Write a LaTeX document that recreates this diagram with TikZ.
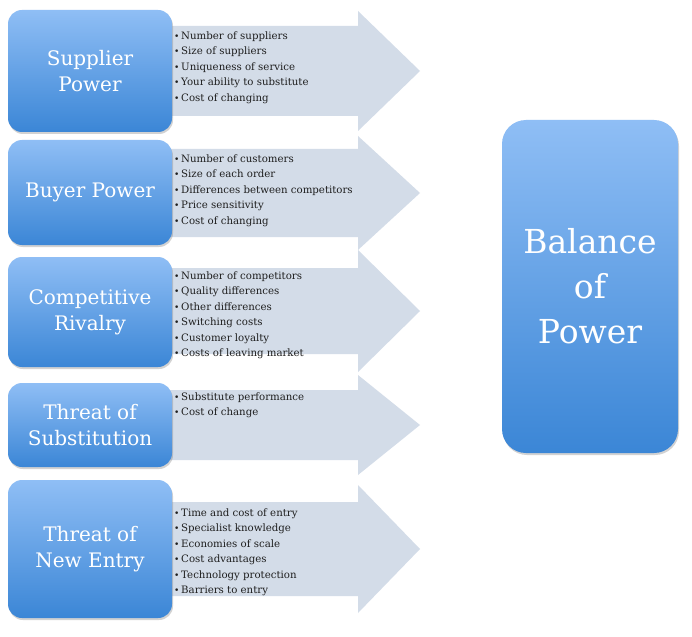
\documentclass[tikz,border=0pt]{standalone}
\usepackage{fontspec}
\setmainfont{DejaVu Serif}
\usetikzlibrary{shadows}
\definecolor{boxtop}{HTML}{8FBEF5}
\definecolor{boxbot}{HTML}{3B86D6}
\definecolor{arrowfill}{HTML}{D3DCE8}
\definecolor{listtext}{HTML}{1E1E1E}
\tikzset{
  forcebox/.style={rounded corners=14pt, top color=boxtop, bottom color=boxbot,
    text=white, align=center, minimum width=164pt, inner sep=0pt,
    font=\fontsize{20}{26}\selectfont,
    drop shadow={opacity=0.35, shadow xshift=1pt, shadow yshift=-2pt}},
  bigbox/.style={forcebox, rounded corners=24pt, minimum width=176pt,
    font=\fontsize{33}{45}\selectfont},
  arrowshape/.style={fill=arrowfill, draw=none},
  factorlist/.style={anchor=north west, align=left, inner sep=0pt, text=listtext,
    font=\fontsize{10.2}{15.4}\selectfont}
}
\newcommand{\bl}{{\small\textbullet}\,}
\begin{document}
\begin{tikzpicture}[x=1pt,y=-1pt]
\useasboundingbox (0,0) rectangle (692,636);
\fill[white] (0,0) rectangle (692,636);
% arrows
\foreach \c/\b/\h in {71/45/60, 193/44/57, 311/43/61, 425/35/50, 549/47/64}{
  \path[arrowshape] (165,\c-\b) -- (358,\c-\b) -- (358,\c-\h) -- (420,\c)
    -- (358,\c+\h) -- (358,\c+\b) -- (165,\c+\b) -- cycle;
}
% boxes
\node[forcebox, minimum height=122pt] (sup) at (90,71) {Supplier\\Power};
\node[forcebox, minimum height=105pt] (buy) at (90,192.5) {Buyer Power};
\node[forcebox, minimum height=110pt] (riv) at (90,312) {Competitive\\Rivalry};
\node[forcebox, minimum height=84pt] (sub) at (90,425) {Threat of\\Substitution};
\node[forcebox, minimum height=138pt] (new) at (90,549) {Threat of\\New Entry};
\node[bigbox, minimum height=333pt] (bal) at (590,286.5) {Balance\\of\\Power};
% lists
\node[factorlist] (l1) at (174,31.5) {\bl Number of suppliers\\\bl Size of suppliers\\\bl Uniqueness of service\\\bl Your ability to substitute\\\bl Cost of changing};
\node[factorlist] (l2) at (174,154.5) {\bl Number of customers\\\bl Size of each order\\\bl Differences between competitors\\\bl Price sensitivity\\\bl Cost of changing};
\node[factorlist] (l3) at (174,271.5) {\bl Number of competitors\\\bl Quality differences\\\bl Other differences\\\bl Switching costs\\\bl Customer loyalty\\\bl Costs of leaving market};
\node[factorlist] (l4) at (174,392.5) {\bl Substitute performance\\\bl Cost of change};
\node[factorlist] (l5) at (174,508.5) {\bl Time and cost of entry\\\bl Specialist knowledge\\\bl Economies of scale\\\bl Cost advantages\\\bl Technology protection\\\bl Barriers to entry};
\end{tikzpicture}
\end{document}
